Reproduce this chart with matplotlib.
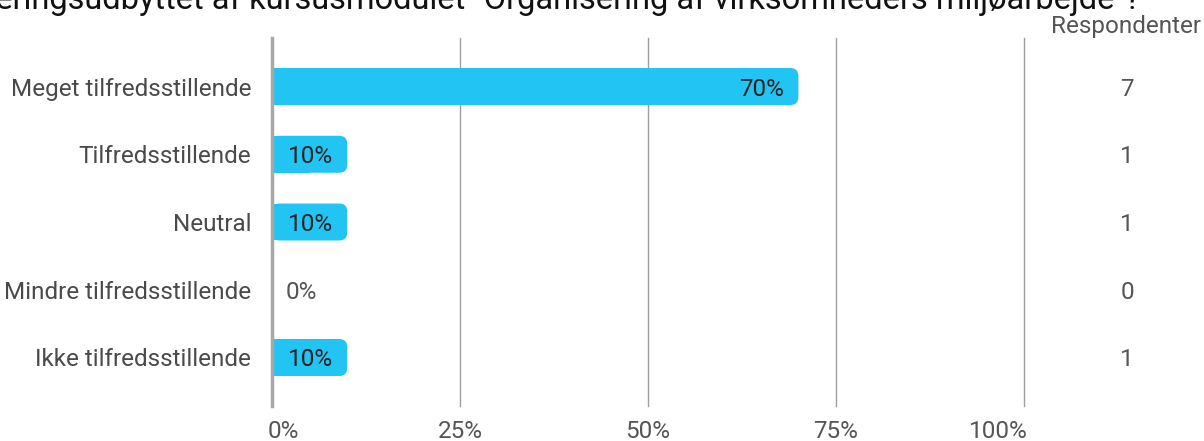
import matplotlib.pyplot as plt
from matplotlib.patches import FancyBboxPatch, Rectangle

plt.rcParams['font.family'] = ['Roboto', 'DejaVu Sans']

title = 'Hvordan vurderer du læringsudbyttet af kursusmodulet "Organisering af virksomheders miljøarbejde"?'
categories = ['Meget tilfredsstillende', 'Tilfredsstillende', 'Neutral',
              'Mindre tilfredsstillende', 'Ikke tilfredsstillende']
percent = [70, 10, 10, 0, 10]
respondents = [7, 1, 1, 0, 1]
xticks = [0, 25, 50, 75, 100]

W, H = 1204, 441
fig = plt.figure(figsize=(W / 100, H / 100), dpi=100)

ax_left, ax_right = 272 / W, 1024 / W
ax_top, ax_bottom = 1 - 38 / H, 1 - 406 / H
ax = fig.add_axes([ax_left, ax_bottom, ax_right - ax_left, ax_top - ax_bottom])

bar_color = '#22C4F3'
fs = 17.5
y = list(range(len(categories)))
bar_h = 0.546
bars = ax.barh(y, percent, height=bar_h, color='none')

ax.set_xlim(0, 100)
ax.set_ylim(4.716, -0.716)

# rounded right end, square left end
px_x = (ax_right - ax_left) * W / 100.0
px_y = (ax_top - ax_bottom) * H / (4.716 + 0.716)
aspect = px_x / px_y
r = 8 / px_x
for b in bars:
    x0, y0 = b.get_x(), b.get_y()
    w, h = b.get_width(), b.get_height()
    if w <= 0:
        continue
    ax.add_patch(FancyBboxPatch((x0, y0), w, h,
                                boxstyle=f'round,pad=0,rounding_size={r}',
                                mutation_aspect=aspect, fc=bar_color, ec='none', zorder=2))
    ax.add_patch(Rectangle((x0, y0), w / 2, h, fc=bar_color, ec='none', zorder=2))

# grid
for t in xticks[1:]:
    ax.axvline(t, color='#9e9e9e', lw=1, zorder=1, clip_on=False)
ax.axvline(0, color='#a8a8a8', lw=2.5, zorder=3, clip_on=False)

for s in ax.spines.values():
    s.set_visible(False)
ax.set_xticks([])
ax.set_yticks(y)
ax.set_yticklabels(categories)
ax.tick_params(axis='y', length=0, pad=15, labelsize=fs, labelcolor='#4a4a4a')

# x tick labels, first and last kept inside the plot span
tick_y = 1 - 431 / H
for t in xticks:
    xf = ax.transData.transform((t, 0))[0] / W
    ha = 'center'
    if t == xticks[0]:
        ha, xf = 'left', xf - 4 / W
    elif t == xticks[-1]:
        ha, xf = 'right', xf + 4 / W
    fig.text(xf, tick_y, f'{t}%', ha=ha, va='center', fontsize=fs, color='#555555')

pad = 14 / px_x
for i, p in enumerate(percent):
    if p > 0:
        ax.text(p - pad, i, f'{p}%', ha='right', va='center_baseline', fontsize=fs,
                color='#222222', zorder=4)
    else:
        ax.text(pad, i, f'{p}%', ha='left', va='center_baseline', fontsize=fs,
                color='#555555', zorder=4)

# respondents column
rx = 1127 / W
for i, n in enumerate(respondents):
    yy = ax.transData.transform((0, i))[1] / H
    fig.text(rx, yy, str(n), ha='center', va='center_baseline', fontsize=fs, color='#555555')
fig.text(1126 / W, 1 - 27 / H, 'Respondenter', ha='center', va='center',
         fontsize=fs, color='#555555')

fig.text(1140 / W, 1 - 9 / H, title, ha='right', va='baseline',
         fontsize=23.5, color='#111111')

fig.savefig('out.png', dpi=100)
